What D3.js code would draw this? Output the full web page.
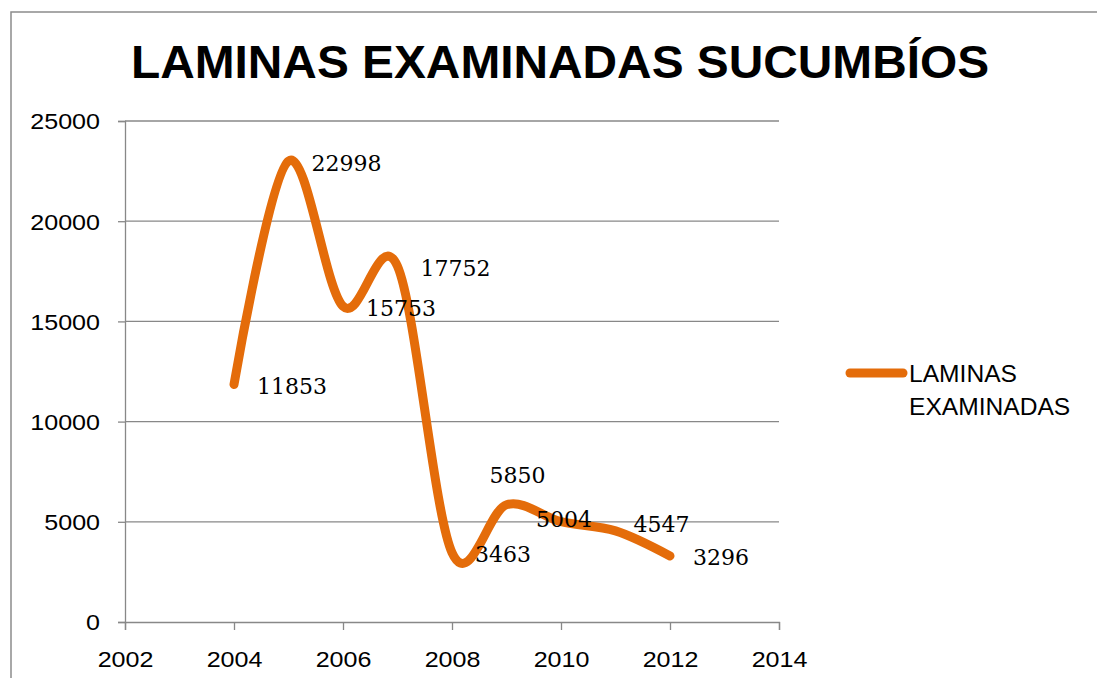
<!DOCTYPE html>
<html><head><meta charset="utf-8">
<script src="https://cdn.jsdelivr.net/npm/d3@7"></script>
<style>body{margin:0;background:#fff}svg{display:block}</style>
</head><body>
<svg id="chart" width="1097" height="678"></svg>
<script>
const years = [2004, 2005, 2006, 2007, 2008, 2009, 2010, 2011, 2012];
const values = [11853, 22998, 15753, 17752, 3463, 5850, 5004, 4547, 3296];
const labelPlacement = ["right", "right", "right", "right", "right", "above", "center", "aboveRight", "right"];
const xTicks = [2002, 2004, 2006, 2008, 2010, 2012, 2014];
const yTicks = [0, 5000, 10000, 15000, 20000, 25000];
const seriesName = ["LAMINAS", "EXAMINADAS"];
const title = "LAMINAS EXAMINADAS SUCUMBÍOS";

const svg = d3.select("#chart");
const color = "#E46C0A";
const grid = "#888888";
const sans = "Liberation Sans, Arial, sans-serif";
const stretch = 1.14;

svg.append("rect").attr("x", 11).attr("y", 12).attr("width", 1200).attr("height", 800)
  .attr("fill", "none").attr("stroke", "#8c8c8c").attr("stroke-width", 1.5);

const x = d3.scaleLinear().domain([2002, 2014]).range([125, 779]);
const y = d3.scaleLinear().domain([0, 25000]).range([622, 121]);

svg.append("text").attr("transform", "translate(560,78) scale(1.04,1)").attr("text-anchor", "middle")
  .attr("font-family", sans).attr("font-weight", "bold")
  .attr("font-size", 46).attr("fill", "#000").text(title);

// gridlines
svg.append("g").selectAll("line").data(yTicks.filter(d => d > 0)).join("line")
  .attr("x1", x(2002)).attr("x2", x(2014)).attr("y1", d => y(d)).attr("y2", d => y(d))
  .attr("stroke", grid).attr("stroke-width", 1.3);

const yAxis = svg.append("g").attr("transform", `translate(${x(2002)},0)`)
  .call(d3.axisLeft(y).tickValues(yTicks).tickSize(7).tickFormat(d3.format("d")));
const xAxis = svg.append("g").attr("transform", `translate(0,${y(0)})`)
  .call(d3.axisBottom(x).tickValues(xTicks).tickSize(8).tickPadding(21).tickFormat(d3.format("d")));
[yAxis, xAxis].forEach(a => {
  a.select(".domain").attr("stroke", grid).attr("stroke-width", 1.3);
  a.selectAll(".tick line").attr("stroke", grid).attr("stroke-width", 1.3);
  a.selectAll("text").attr("font-family", sans)
    .attr("font-size", 22).attr("fill", "#000");
});
yAxis.selectAll(".tick text").attr("x", -25 / stretch).attr("dy", "0.36em")
  .attr("transform", `scale(${stretch},1)`);
xAxis.selectAll(".tick text").attr("transform", `scale(${stretch},1)`);

const pts = years.map((yr, i) => [yr, values[i]]);
const line = d3.line().x(d => x(d[0])).y(d => y(d[1])).curve(d3.curveCardinal.tension(0));
svg.append("path").datum(pts).attr("d", line).attr("fill", "none")
  .attr("stroke", color).attr("stroke-width", 9).attr("stroke-linecap", "round").attr("stroke-linejoin", "round");

// data labels
svg.append("g").selectAll("text").data(pts).join("text")
  .attr("font-family", "DejaVu Serif, serif").attr("font-size", 22).attr("fill", "#000")
  .attr("dominant-baseline", "central")
  .attr("text-anchor", (d, i) => labelPlacement[i] === "right" ? "start" : "middle")
  .attr("x", (d, i) => {
    const p = labelPlacement[i];
    if (p === "right") return x(d[0]) + 23;
    if (p === "aboveRight") return x(d[0]) + 46;
    return x(d[0]) + (p === "above" ? 11 : 3);
  })
  .attr("y", (d, i) => {
    const p = labelPlacement[i];
    if (p === "above") return y(d[1]) - 29;
    if (p === "aboveRight") return y(d[1]) - 6;
    if (p === "center") return y(d[1]) - 2;
    return y(d[1]) + 2;
  })
  .text(d => d[1]);

// legend
const lg = svg.append("g");
lg.append("line").attr("x1", 850).attr("x2", 903).attr("y1", 373).attr("y2", 373)
  .attr("stroke", color).attr("stroke-width", 9).attr("stroke-linecap", "round");
lg.selectAll("text").data(seriesName).join("text")
  .attr("transform", (d, i) => `translate(909,${382 + i * 33}) scale(1.07,1)`)
  .attr("font-family", sans).attr("font-size", 23).attr("fill", "#000")
  .text(d => d);
</script>
</body></html>
